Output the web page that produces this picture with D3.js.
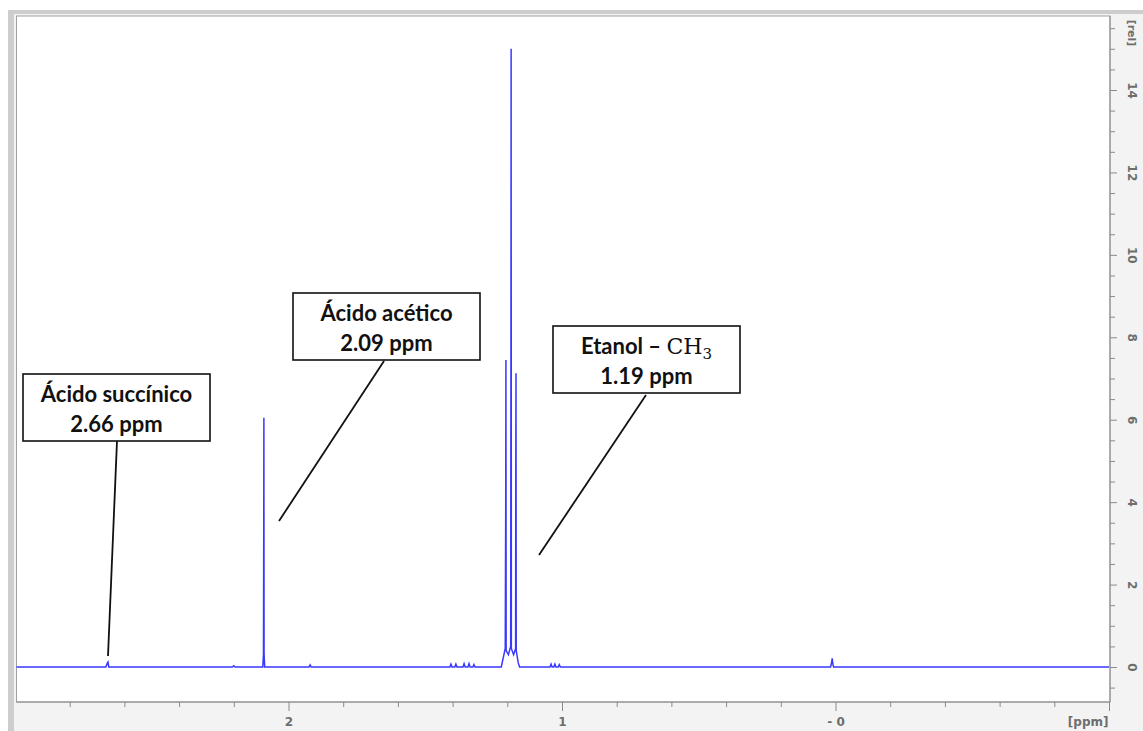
<!DOCTYPE html>
<html>
<head>
<meta charset="utf-8">
<script src="https://cdn.jsdelivr.net/npm/d3@7"></script>
<style>
  body { margin: 0; background: #fff; }
  svg { display: block; }
  .tick text { font-family: "DejaVu Sans", sans-serif; font-weight: bold; font-size: 12px; fill: #6e6e6e; }
  .annot { font-family: Lato, sans-serif; font-weight: bold; font-size: 22px; fill: #111; }
</style>
</head>
<body>
<svg id="chart" width="1143" height="731"></svg>
<script>
// spectrum (ppm, relative intensity)
const specPpm = [3.000, 2.668, 2.662, 2.660, 2.657, 2.205, 2.200, 2.195,
  2.094, 2.0915, 2.0905, 2.0900, 2.0893, 2.087,
  1.925, 1.921, 1.917,
  1.410, 1.406, 1.402, 1.392, 1.388, 1.384, 1.362, 1.358, 1.354, 1.344, 1.340, 1.336, 1.326, 1.322, 1.318,
  1.222, 1.2075, 1.2058, 1.2050, 1.2042, 1.1960, 1.1876, 1.1866, 1.1860, 1.1852, 1.1770,
  1.1696, 1.1690, 1.1682, 1.1674, 1.1600, 1.155,
  1.044, 1.040, 1.036, 1.030, 1.026, 1.022, 1.014, 1.010, 1.006,
  0.018, 0.014, 0.012, 0.010, 0.007, -1.000];
const specRel = [0, 0, 0.10, 0.12, 0, 0, 0.03, 0,
  0, 0.30, 3.48, 6.05, 0.30, 0,
  0, 0.05, 0,
  0, 0.07, 0, 0, 0.07, 0, 0, 0.08, 0, 0, 0.08, 0, 0, 0.06, 0,
  0, 0.45, 3.93, 7.45, 0.40, 0.30, 0.50, 8.47, 15.0, 0.45, 0.30,
  0.45, 4.66, 7.13, 0.40, 0.10, 0,
  0, 0.07, 0, 0, 0.07, 0, 0, 0.06, 0,
  0, 0.12, 0.21, 0.08, 0, 0];

const xMajor = [3, 2, 1, 0, -1];
const xLabels = {2: '2', 1: '1', 0: '- 0', '-1': '[ppm]'};
const yMajor = [0, 2, 4, 6, 8, 10, 12, 14];

const annoTitle = ['Ácido succínico', 'Ácido acético', 'Etanol – '];
const annoValue = ['2.66 ppm', '2.09 ppm', '1.19 ppm'];
// box layout in pixels: box left/top, line start/end
const annoBox = [
  {x: 23, y: 374, lx0: 117, ly0: 441, lx1: 108, ly1: 656},
  {x: 293, y: 293, lx0: 384, ly0: 361, lx1: 279, ly1: 521},
  {x: 553, y: 326, lx0: 646, ly0: 395, lx1: 539, ly1: 555}
];

const svg = d3.select('#chart');
const plotL = 16.5, plotR = 1110, plotT = 16, plotB = 702;

// frame
svg.append('rect').attr('x', 8).attr('y', 10).attr('width', 1135).attr('height', 721).attr('fill', '#f3f3f3');
svg.append('rect').attr('x', 8).attr('y', 10).attr('width', 6).attr('height', 721).attr('fill', '#cdcdcd');
svg.append('rect').attr('x', 8).attr('y', 10).attr('width', 1135).attr('height', 4).attr('fill', '#cdcdcd');
svg.append('rect')
  .attr('x', plotL).attr('y', plotT)
  .attr('width', plotR - plotL).attr('height', plotB - plotT)
  .attr('fill', '#fff').attr('stroke', '#a0a0a0').attr('stroke-width', 1);

const x = d3.scaleLinear().domain([3.0, -1.0]).range([15, 1109]);
const y = d3.scaleLinear().domain([0, 14]).range([667, 90]);

svg.append('defs').append('clipPath').attr('id', 'clip')
  .append('rect').attr('x', plotL).attr('y', plotT).attr('width', plotR - plotL).attr('height', plotB - plotT);

// x axis
const xMinor = d3.range(-1, 3.01, 0.2).map(v => +v.toFixed(1)).filter(v => !xMajor.includes(v));
const xAxisG = svg.append('g').attr('transform', `translate(0,${plotB})`);
xAxisG.append('g')
  .call(d3.axisBottom(x).tickValues(xMinor).tickSize(5).tickFormat(''))
  .call(g => g.select('.domain').remove());
xAxisG.append('g')
  .call(d3.axisBottom(x).tickValues(xMajor.filter(v => x(v) >= plotL)).tickSize(9).tickPadding(6)
    .tickFormat(d => xLabels[d] || ''))
  .call(g => g.select('.domain').attr('stroke', '#8a8a8a').attr('d', `M${plotL},0H${plotR}`));
xAxisG.selectAll('.tick line').attr('stroke', '#8a8a8a');
xAxisG.selectAll('.tick text').filter(d => d === -1).attr('text-anchor', 'end').attr('dx', '-1');

// y axis on the right
const yMinor = d3.range(-0.5, 15.51, 0.5).filter(v => !yMajor.includes(v));
const yAxisG = svg.append('g').attr('transform', `translate(${plotR},0)`);
yAxisG.append('g')
  .call(d3.axisRight(y).tickValues(yMinor).tickSize(5).tickFormat(''))
  .call(g => g.select('.domain').remove());
yAxisG.append('g')
  .call(d3.axisRight(y).tickValues(yMajor).tickSize(7).tickFormat(d3.format('d')))
  .call(g => g.select('.domain').attr('stroke', '#8a8a8a').attr('d', `M0,${plotT}V${plotB}`));
yAxisG.selectAll('.tick line').attr('stroke', '#8a8a8a');
yAxisG.selectAll('.tick text')
  .attr('x', 0).attr('y', 0).attr('dy', 0)
  .attr('text-anchor', 'middle')
  .attr('dominant-baseline', 'middle')
  .attr('transform', 'translate(21,0) rotate(90)');
yAxisG.append('text')
  .attr('transform', `translate(21,33) rotate(90)`)
  .attr('text-anchor', 'middle').attr('dominant-baseline', 'middle')
  .style('font-family', '"DejaVu Sans", sans-serif').style('font-weight', 'bold')
  .style('font-size', '11px').style('fill', '#6e6e6e')
  .text('[rel]');

// spectrum
const spec = specPpm.map((p, i) => [p, specRel[i]]);
svg.append('path')
  .datum(spec)
  .attr('clip-path', 'url(#clip)')
  .attr('fill', 'none')
  .attr('stroke', '#3838ff')
  .attr('stroke-width', 1.5)
  .attr('d', d3.line().x(d => x(d[0])).y(d => y(d[1])));

// annotations
const boxW = 187, boxH = 67;
annoBox.forEach((b, i) => {
  svg.append('line')
    .attr('x1', b.lx0).attr('y1', b.ly0).attr('x2', b.lx1).attr('y2', b.ly1)
    .attr('stroke', '#111').attr('stroke-width', 1.8);
  svg.append('rect')
    .attr('x', b.x).attr('y', b.y).attr('width', boxW).attr('height', boxH)
    .attr('fill', '#fff').attr('stroke', '#111').attr('stroke-width', 1.6);
  const t1 = svg.append('text').attr('class', 'annot')
    .attr('x', b.x + boxW / 2).attr('y', b.y + 28).attr('text-anchor', 'middle')
    .text(annoTitle[i]);
  if (i === 2) {
    t1.append('tspan').style('font-family', '"DejaVu Serif", serif').style('font-weight', 'normal').text('CH');
    t1.append('tspan').style('font-family', '"DejaVu Serif", serif').style('font-weight', 'normal')
      .style('font-size', '15px').attr('dy', 5).text('3');
  }
  svg.append('text').attr('class', 'annot')
    .attr('x', b.x + boxW / 2).attr('y', b.y + 58).attr('text-anchor', 'middle')
    .text(annoValue[i]);
});
</script>
</body>
</html>
